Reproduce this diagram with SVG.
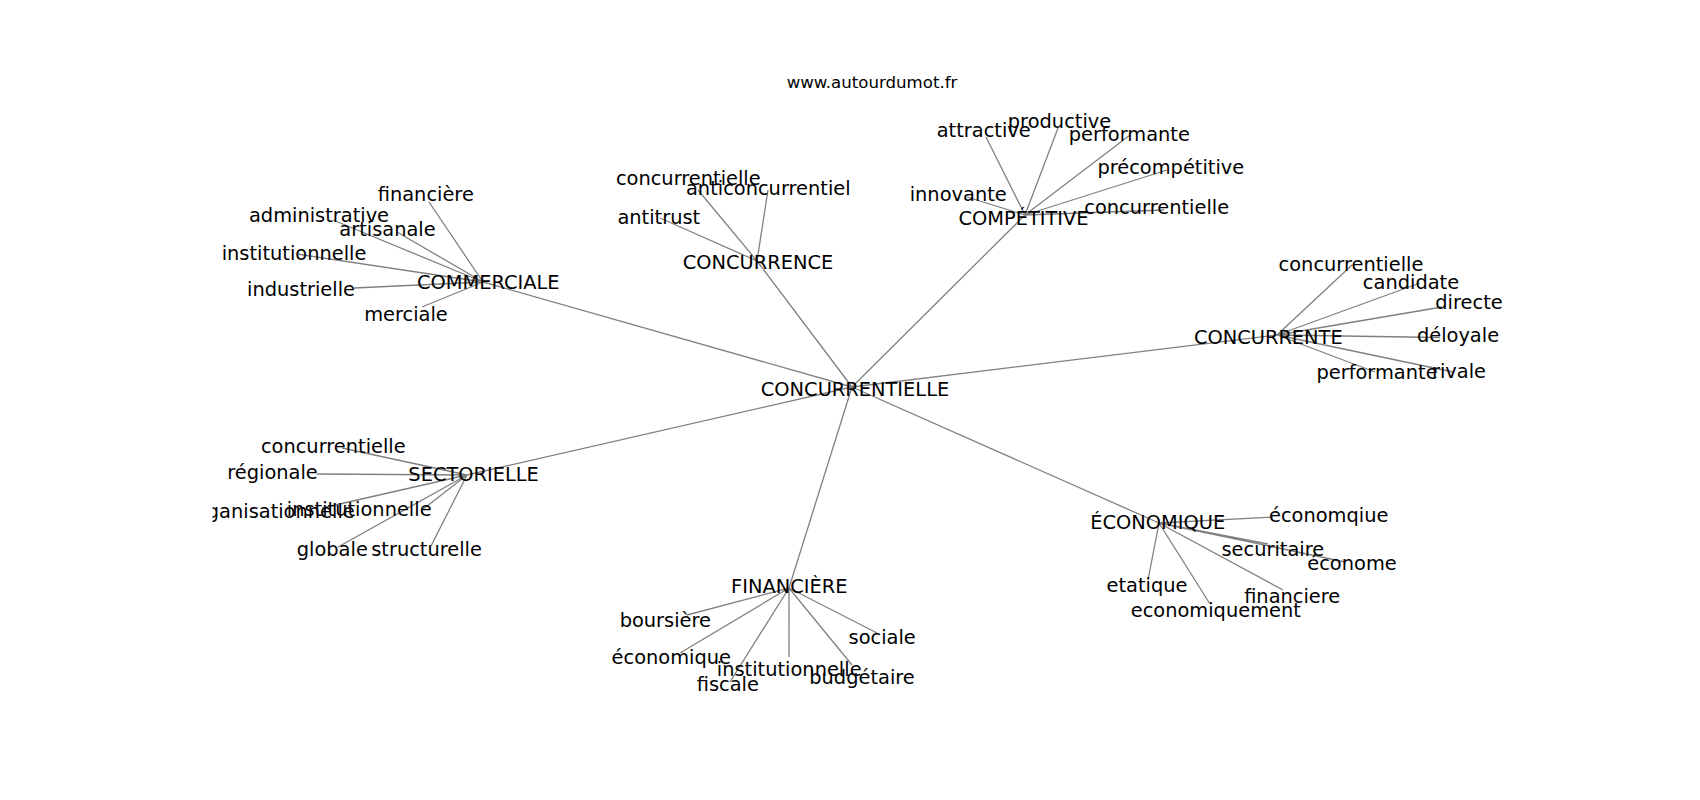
<svg xmlns="http://www.w3.org/2000/svg" width="1700" height="800" viewBox="0 0 1700 800">
<style>
.e{stroke:#808080;stroke-width:1.3;fill:none}
text{font-family:"DejaVu Sans","Liberation Sans",sans-serif;font-size:19.4px;fill:#000;text-anchor:middle}
.title{font-size:16.6px}
</style>
<defs><clipPath id="ax"><rect x="212.5" y="96" width="1317.5" height="616"/></clipPath></defs>
<rect width="1700" height="800" fill="#fff"/>
<text class="title" x="872" y="88">www.autourdumot.fr</text>
<g id="edges">
<path class="e" d="M852 387L483 282M852 387L757 261M852 387L1025 215M852 387L1277 335M852 387L1159 523M852 387L789 588M852 387L467 475"/>
<path class="e" d="M483 282L429 202M483 282L333 220M483 282L397 232M483 282L297 254M483 282L354 288M483 282L422 307"/>
<path class="e" d="M757 261L698 190M757 261L768 190M757 261L660 218"/>
<path class="e" d="M1025 215L986 137M1025 215L1058 128M1025 215L1130 135M1025 215L1167 170M1025 215L967 197M1025 215L1164 210"/>
<path class="e" d="M1277 335L1352 265M1277 335L1420 283M1277 335L1442 307M1277 335L1440 337.5M1277 335L1375 372M1277 335L1453 372"/>
<path class="e" d="M467 475L342 448M467 475L317 474M467 475L322 508M467 475L422 510M467 475L338 547M467 475L431 546"/>
<path class="e" d="M789 588L687 615M789 588L680 653M789 588L789 657M789 588L730 682M789 588L877 633M789 588L852 665"/>
<path class="e" d="M1159 523L1273 517M1159 523L1268 544M1159 523L1345 562M1159 523L1283 590M1159 523L1148 580M1159 523L1210 604"/>
</g>
<g clip-path="url(#ax)">
<g id="concurrentielle"><text x="855" y="396">CONCURRENTIELLE</text></g>
<g id="commerciale"><text x="488.3" y="289.3">COMMERCIALE</text></g>
<g id="concurrence"><text x="758" y="268.5">CONCURRENCE</text></g>
<g id="competitive"><text x="1023.5" y="225">COMPÉTITIVE</text></g>
<g id="concurrente"><text x="1268.3" y="343.8">CONCURRENTE</text></g>
<g id="sectorielle"><text x="473.6" y="481">SECTORIELLE</text></g>
<g id="financiere"><text x="789.3" y="592.7">FINANCIÈRE</text></g>
<g id="economique"><text x="1157.8" y="529">ÉCONOMIQUE</text></g>

<g id="c-financiere"><text x="425.8" y="201">financière</text></g>
<g id="c-administrative"><text x="319" y="221.5">administrative</text></g>
<g id="c-artisanale"><text x="387.5" y="235.5">artisanale</text></g>
<g id="c-institutionnelle"><text x="294" y="259.5">institutionnelle</text></g>
<g id="c-industrielle"><text x="301" y="296">industrielle</text></g>
<g id="c-merciale"><text x="406" y="320.5">merciale</text></g>

<g id="cc-concurrentielle"><text x="688.3" y="184.5">concurrentielle</text></g>
<g id="cc-anticoncurrentiel"><text x="768.3" y="194.5">anticoncurrentiel</text></g>
<g id="cc-antitrust"><text x="658.8" y="224">antitrust</text></g>

<g id="cp-attractive"><text x="983.7" y="137">attractive</text></g>
<g id="cp-productive"><text x="1059.5" y="128.3">productive</text></g>
<g id="cp-performante"><text x="1129.3" y="141">performante</text></g>
<g id="cp-precompetitive"><text x="1170.8" y="173.8">précompétitive</text></g>
<g id="cp-innovante"><text x="958.2" y="200.5">innovante</text></g>
<g id="cp-concurrentielle"><text x="1156.7" y="213.8">concurrentielle</text></g>

<g id="ct-concurrentielle"><text x="1351" y="270.8">concurrentielle</text></g>
<g id="ct-candidate"><text x="1411" y="289">candidate</text></g>
<g id="ct-directe"><text x="1469" y="308.5">directe</text></g>
<g id="ct-deloyale"><text x="1458" y="342">déloyale</text></g>
<g id="ct-performante"><text x="1377" y="379">performante</text></g>
<g id="ct-rivale"><text x="1459" y="378">rivale</text></g>

<g id="s-concurrentielle"><text x="333.3" y="452.8">concurrentielle</text></g>
<g id="s-regionale"><text x="272.5" y="479">régionale</text></g>
<g id="s-organisationnelle"><text x="271" y="518">organisationnelle</text></g>
<g id="s-institutionnelle"><text x="359.2" y="515.5">institutionnelle</text></g>
<g id="s-globale"><text x="332.3" y="555.5">globale</text></g>
<g id="s-structurelle"><text x="426.6" y="555.5">structurelle</text></g>

<g id="f-boursiere"><text x="665.3" y="627">boursière</text></g>
<g id="f-economique"><text x="671.3" y="664">économique</text></g>
<g id="f-institutionnelle"><text x="789.2" y="675.5">institutionnelle</text></g>
<g id="f-fiscale"><text x="727.8" y="690.5">fiscale</text></g>
<g id="f-sociale"><text x="882.2" y="643.5">sociale</text></g>
<g id="f-budgetaire"><text x="862" y="683.5">budgétaire</text></g>

<g id="e-economqiue"><text x="1328.7" y="522">économqiue</text></g>
<g id="e-securitaire"><text x="1272.8" y="556">securitaire</text></g>
<g id="e-econome"><text x="1352" y="569.5">économe</text></g>
<g id="e-financiere"><text x="1292.2" y="602.5">financiere</text></g>
<g id="e-etatique"><text x="1147" y="592">etatique</text></g>
<g id="e-economiquement"><text x="1215.8" y="616.5">economiquement</text></g>
</g>
</svg>
